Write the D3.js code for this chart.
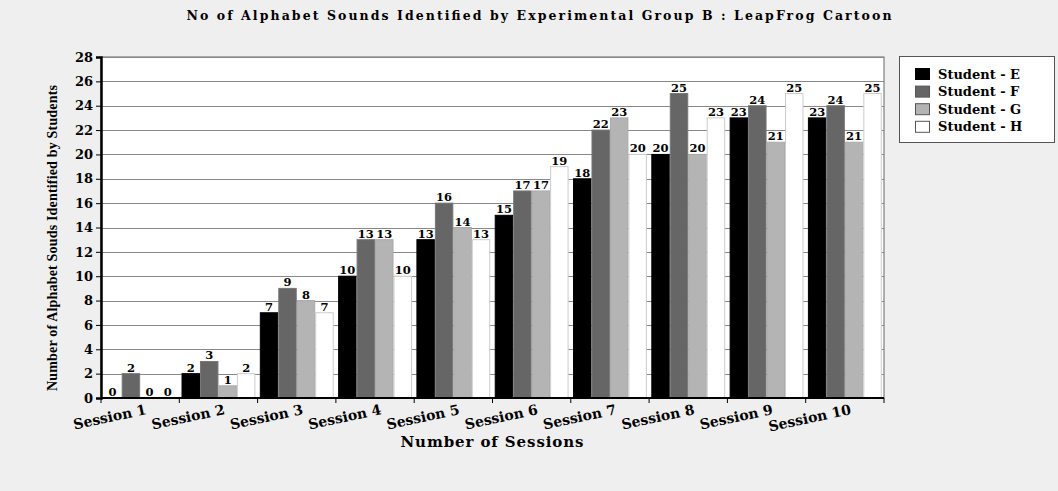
<!DOCTYPE html>
<html>
<head>
<meta charset="utf-8">
<script src="https://d3js.org/d3.v7.min.js"></script>
<style>
body { margin: 0; background: #efefef; }
svg { display: block; background: #efefef; }
.tick text { font-family: "DejaVu Serif", serif; font-weight: bold; }
</style>
</head>
<body>
<svg id="chart" width="1058" height="491"></svg>
<script>
var sessions = ["Session 1","Session 2","Session 3","Session 4","Session 5","Session 6","Session 7","Session 8","Session 9","Session 10"];
var students = ["Student - E","Student - F","Student - G","Student - H"];
var studentE = [0, 2, 7, 10, 13, 15, 18, 20, 23, 23];
var studentF = [2, 3, 9, 13, 16, 17, 22, 25, 24, 24];
var studentG = [0, 1, 8, 13, 14, 17, 23, 20, 21, 21];
var studentH = [0, 2, 7, 10, 13, 19, 20, 23, 25, 25];
var yTicks = [0,2,4,6,8,10,12,14,16,18,20,22,24,26,28];

var series = [studentE, studentF, studentG, studentH];
var fills = ["#000000", "#666666", "#b4b4b4", "#ffffff"];
var strokes = ["#000000", "#777777", "#aaaaaa", "#cccccc"];

var svg = d3.select("#chart");
var pLeft = 101, pRight = 884, pTop = 57, pBottom = 398;

var x = d3.scaleBand().domain(sessions).range([pLeft, pRight]).paddingInner(0).paddingOuter(0);
var x1 = d3.scaleBand().domain(d3.range(4)).range([0, x.bandwidth()]).paddingOuter(0.12).paddingInner(0);
var y = d3.scaleLinear().domain([0, 28]).range([pBottom, pTop]);

// plot background
svg.append("rect").attr("x", pLeft).attr("y", pTop).attr("width", pRight - pLeft).attr("height", pBottom - pTop)
  .attr("fill", "#fff").attr("stroke", "#666").attr("stroke-width", 1);

// grid
svg.selectAll(".grid").data(yTicks.slice(1)).enter().append("line")
  .attr("x1", pLeft).attr("x2", pRight)
  .attr("y1", function(d){ return Math.round(y(d)) + 0.5; })
  .attr("y2", function(d){ return Math.round(y(d)) + 0.5; })
  .attr("stroke", "#888").attr("stroke-width", 1);

// bars
var groups = svg.selectAll(".grp").data(sessions).enter().append("g")
  .attr("transform", function(d){ return "translate(" + x(d) + ",0)"; });

series.forEach(function(vals, si) {
  groups.append("rect")
    .attr("x", x1(si) + 0.5)
    .attr("y", function(d, i){ return y(vals[i]); })
    .attr("width", x1.bandwidth() - 1)
    .attr("height", function(d, i){ return pBottom - y(vals[i]); })
    .attr("fill", fills[si])
    .attr("stroke", strokes[si]).attr("stroke-width", 1);
});
series.forEach(function(vals, si) {
  groups.append("text")
    .attr("x", x1(si) + x1.bandwidth() / 2)
    .attr("y", function(d, i){ return y(vals[i]) - 2; })
    .attr("text-anchor", "middle")
    .attr("font-family", "DejaVu Serif, serif")
    .attr("font-weight", "bold")
    .attr("font-size", "11.5px")
    .attr("fill", "#000")
    .text(function(d, i){ return vals[i]; });
});

// y axis
var yAxis = d3.axisLeft(y).tickValues(yTicks).tickSize(5).tickPadding(3);
var gy = svg.append("g").attr("transform", "translate(" + pLeft + ",0)").call(yAxis);
gy.select(".domain").attr("stroke", "#000").attr("stroke-width", 2.5);
gy.selectAll(".tick line").attr("stroke", "#000");
gy.selectAll(".tick text").attr("font-size", "13px").attr("fill", "#000");

// x axis
var gx = svg.append("g").attr("transform", "translate(0," + pBottom + ")");
gx.append("line").attr("x1", pLeft).attr("x2", pRight).attr("y1", 0).attr("y2", 0)
  .attr("stroke", "#000").attr("stroke-width", 2);
gx.selectAll(".xt").data(sessions.concat(["end"])).enter().append("line")
  .attr("x1", function(d, i){ return pLeft + i * x.bandwidth(); })
  .attr("x2", function(d, i){ return pLeft + i * x.bandwidth(); })
  .attr("y1", 0).attr("y2", 5).attr("stroke", "#000");
gx.selectAll(".xl").data(sessions).enter().append("text")
  .attr("transform", function(d){ return "translate(" + (x(d) + x.bandwidth() / 2 + 7) + ",16) rotate(-12)"; })
  .attr("text-anchor", "end")
  .attr("font-family", "DejaVu Serif, serif")
  .attr("font-weight", "bold")
  .attr("font-size", "14px")
  .text(function(d){ return d; });

// titles
svg.append("text").attr("x", 539).attr("y", 20).attr("text-anchor", "middle")
  .attr("font-family", "DejaVu Serif, serif").attr("font-weight", "bold").attr("font-size", "12.5px")
  .attr("textLength", 705)
  .text("No of Alphabet Sounds Identified by Experimental Group B : LeapFrog Cartoon");

svg.append("text").attr("x", 492).attr("y", 447).attr("text-anchor", "middle")
  .attr("font-family", "DejaVu Serif, serif").attr("font-weight", "bold").attr("font-size", "15px")
  .attr("textLength", 183)
  .text("Number of Sessions");

svg.append("text").attr("transform", "translate(57,238) rotate(-90)").attr("text-anchor", "middle")
  .attr("font-family", "Liberation Serif, serif").attr("font-weight", "bold").attr("font-size", "14px")
  .attr("textLength", 306)
  .text("Number of Alphabet Souds Identified by Students");

// legend
var lg = svg.append("g");
lg.append("rect").attr("x", 899.5).attr("y", 56.5).attr("width", 155).attr("height", 86)
  .attr("fill", "#fff").attr("stroke", "#555");
students.forEach(function(s, i) {
  var cy = 74 + i * 17.6;
  lg.append("rect").attr("x", 915.5).attr("y", cy - 5.5).attr("width", 14).attr("height", 11)
    .attr("fill", fills[i]).attr("stroke", i === 0 ? "#000" : "#555");
  lg.append("text").attr("x", 938).attr("y", cy).attr("dy", "0.35em")
    .attr("font-family", "DejaVu Serif, serif").attr("font-weight", "bold").attr("font-size", "13px")
    .text(s);
});
</script>
</body>
</html>
